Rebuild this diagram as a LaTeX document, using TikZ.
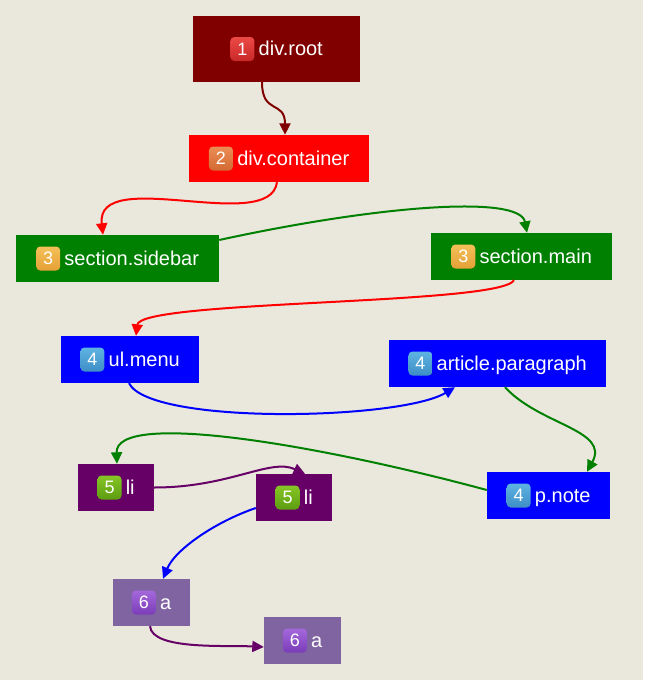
\documentclass[tikz,border=0pt]{standalone}
\usepackage{fontspec}
\setmainfont{Liberation Sans}
\usetikzlibrary{arrows.meta}
\definecolor{bgc}{HTML}{EAE7DC}
\definecolor{cmaroon}{HTML}{800000}
\definecolor{cred}{HTML}{FF0000}
\definecolor{cgreen}{HTML}{008000}
\definecolor{cblue}{HTML}{0000FF}
\definecolor{cpurple}{HTML}{660066}
\definecolor{clav}{HTML}{8064A2}
\definecolor{b1t}{HTML}{EC4A45}\definecolor{b1b}{HTML}{C9282A}
\definecolor{b2t}{HTML}{EC8C55}\definecolor{b2b}{HTML}{D26A32}
\definecolor{b3t}{HTML}{F4C058}\definecolor{b3b}{HTML}{E4A136}
\definecolor{b4t}{HTML}{5DB3E2}\definecolor{b4b}{HTML}{3E8EC6}
\definecolor{b5t}{HTML}{86C626}\definecolor{b5b}{HTML}{5C9C10}
\definecolor{b6t}{HTML}{A468DC}\definecolor{b6b}{HTML}{7A3CB8}
\newcommand\elnode[9]{%
  \node[elbox, fill=#6, minimum width=#4pt, minimum height=#5pt] (#1) at (#2,#3) {\hspace*{28.5pt}#9};
  \node[badge, top color=#7t, bottom color=#7b, anchor=west] (#1-b) at (#1.text |- #1.center) {#8};
}
\begin{document}
\begin{tikzpicture}[x=1pt,y=-1pt,
  elbox/.style={rectangle, draw=none, inner sep=0pt, text=white,
    font=\fontsize{20}{24}\selectfont, text height=17pt, text depth=4pt},
  badge/.style={rectangle, rounded corners=4pt, minimum size=24pt, inner sep=0pt,
    text=white, font=\fontsize{18}{20}\selectfont},
  edge/.style={line width=2pt, -{Triangle[length=11.5pt,width=11pt]}},
]
\useasboundingbox (0,0) rectangle (658,680);
\fill[bgc] (0,0) rectangle (643,680);
\fill[white] (643,0) rectangle (658,680);

\elnode{root}{276.5}{49}{167}{66}{cmaroon}{b1}{1}{div.root}
\elnode{container}{279}{158.5}{180}{47}{cred}{b2}{2}{div.container}
\elnode{sidebar}{117.5}{258.5}{203}{47}{cgreen}{b3}{3}{section.sidebar}
\elnode{main}{521.5}{256.5}{181}{47}{cgreen}{b3}{3}{section.main}
\elnode{ulmenu}{130}{359.5}{138}{47}{cblue}{b4}{4}{ul.menu}
\elnode{article}{497.5}{363.5}{217}{47}{cblue}{b4}{4}{article.paragraph}
\elnode{li1}{116}{487.5}{76}{47}{cpurple}{b5}{5}{li}
\elnode{li2}{294}{497.5}{76}{47}{cpurple}{b5}{5}{li}
\elnode{pnote}{548.5}{495.5}{123}{47}{cblue}{b4}{4}{p.note}
\elnode{a1}{151.5}{602.5}{77}{47}{clav}{b6}{6}{a}
\elnode{a2}{302.5}{640.5}{77}{47}{clav}{b6}{6}{a}

\draw[edge, cmaroon] ([xshift=-14.5pt]root.south) .. controls +(0,33) and +(0,-35) .. ([xshift=6pt]container.north);
\draw[edge, cred] ([xshift=-2pt]container.south) .. controls +(-7,53) and +(-8,-70) .. ([xshift=-14.5pt]sidebar.north);
\draw[edge, cgreen] ([yshift=18.5pt]sidebar.east) .. controls +(161,-35) and +(-7,-38) .. ([xshift=5.5pt]main.north);
\draw[edge, cred] ([xshift=-7.5pt]main.south) .. controls +(-14,25) and +(4,-36) .. ([xshift=6pt]ulmenu.north);
\draw[edge, cblue] ([xshift=-1pt]ulmenu.south) .. controls +(21,42) and +(-55,33) .. ([xshift=-42.5pt]article.south);
\draw[edge, cgreen] ([xshift=7.5pt]article.south) .. controls +(35,38) and +(23,-42) .. ([xshift=38.5pt]pnote.north);
\draw[edge, cgreen] ([yshift=5.5pt]pnote.west) .. controls +(-167,-45) and +(-2,-54) .. ([xshift=1pt]li1.north);
\draw[edge, cpurple] (li1.east) .. controls +(76,0) and +(-35,-16) .. ([xshift=11pt]li2.north);
\draw[edge, cblue] ([yshift=-10.5pt]li2.west) .. controls +(-41,14) and +(12,-29) .. ([xshift=11.5pt]a1.north);
\draw[edge, cpurple] ([xshift=-1.5pt]a1.south) .. controls +(2,24) and +(-39,-2) .. ([yshift=-6.5pt]a2.west);
\end{tikzpicture}
\end{document}
